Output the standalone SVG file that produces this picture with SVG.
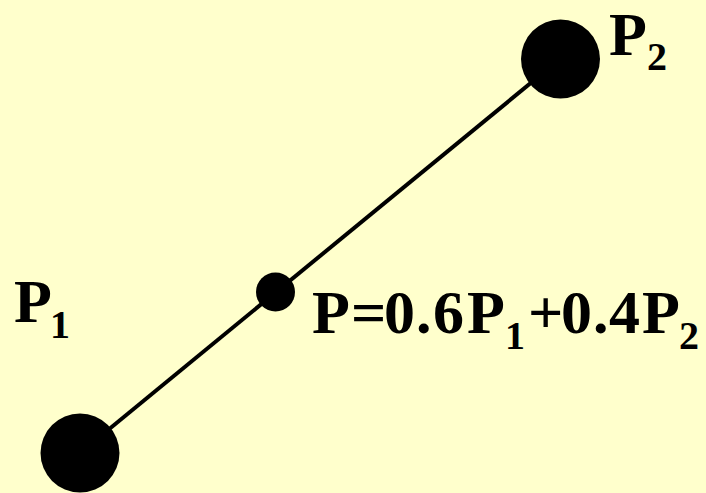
<svg xmlns="http://www.w3.org/2000/svg" width="706" height="493" viewBox="0 0 706 493">
<style>
.pt{fill:#000}
.edge{stroke:#000;stroke-width:4;fill:none}
</style>
<rect width="706" height="493" fill="#FFFFCC"/>
<g id="connectors">
<line class="edge" x1="80" y1="453" x2="560" y2="59"/>
</g>
<g id="P1">
<circle class="pt" cx="80" cy="453" r="39.5"/>
<text font-family="Liberation Serif, serif" font-weight="bold" fill="#000"><tspan font-size="62" x="14" y="322">P</tspan><tspan font-size="40" x="50" y="338">1</tspan></text>
</g>
<g id="P2">
<circle class="pt" cx="560.5" cy="59" r="39.5"/>
<text font-family="Liberation Serif, serif" font-weight="bold" fill="#000"><tspan font-size="62" x="609" y="55">P</tspan><tspan font-size="40" x="647" y="70">2</tspan></text>
</g>
<g id="P">
<circle class="pt" cx="275.5" cy="292" r="19.5"/>
<text font-family="Liberation Serif, serif" font-weight="bold" fill="#000"><tspan font-size="62" x="312 351 384 416 433 467" y="333">P=0.6P</tspan><tspan font-size="40" x="505" y="349">1</tspan><tspan font-size="62" x="528 561 593 609 642" y="333">+0.4P</tspan><tspan font-size="40" x="679" y="349">2</tspan></text>
</g>
</svg>
